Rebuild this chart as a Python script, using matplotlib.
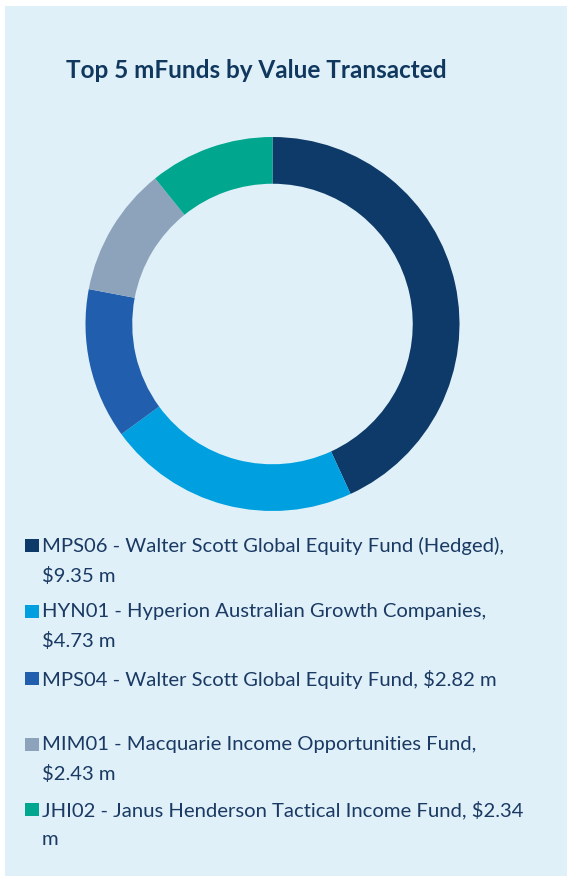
import matplotlib
matplotlib.use("Agg")
import matplotlib.pyplot as plt
from matplotlib.patches import Rectangle

# data
codes = ["MPS06", "HYN01", "MPS04", "MIM01", "JHI02"]
labels = [
    "MPS06 - Walter Scott Global Equity Fund (Hedged),\n$9.35 m",
    "HYN01 - Hyperion Australian Growth Companies,\n$4.73 m",
    "MPS04 - Walter Scott Global Equity Fund, $2.82 m",
    "MIM01 - Macquarie Income Opportunities Fund,\n$2.43 m",
    "JHI02 - Janus Henderson Tactical Income Fund, $2.34\nm",
]
values = [9.35, 4.73, 2.82, 2.43, 2.34]
colors = ["#0E3A69", "#00A0E0", "#215FAE", "#8DA3BC", "#00A78E"]

W, H = 567, 876
bg = "#E0F0F8"
txt = "#1A3A64"
plt.rcParams['font.family'] = ['Lato', 'DejaVu Sans']

fig = plt.figure(figsize=(W / 100, H / 100), dpi=100)
fig.patch.set_facecolor("white")
fig.patches.append(Rectangle((5 / W, 0), 1 - 5 / W, 1 - 6 / H, transform=fig.transFigure,
                             facecolor=bg, edgecolor="none", zorder=-5))

fig.text(256 / W, 1 - 70 / H, "Top 5 mFunds by Value Transacted", ha="center", va="center",
         fontsize=17.5, fontweight="bold", color="#10385F")

# donut
cx, cy, r = 272.5, 324, 187
ax = fig.add_axes([(cx - r) / W, 1 - (cy + r) / H, 2 * r / W, 2 * r / H])
ax.pie(values, colors=colors, startangle=90, counterclock=False, radius=1,
       wedgeprops=dict(width=0.25, edgecolor="none"))
ax.set_xlim(-1, 1)
ax.set_ylim(-1, 1)
ax.set_axis_off()

# legend
row_y = [546, 612, 679, 745, 810]
for lab, c, y in zip(labels, colors, row_y):
    fig.patches.append(Rectangle((25 / W, 1 - (y + 6) / H), 14 / W, 13 / H,
                                 transform=fig.transFigure, facecolor=c, edgecolor="none"))
    fig.text(42 / W, 1 - (y - 9) / H, lab, ha="left", va="top", fontsize=14.6,
             color=txt, linespacing=1.8)

fig.savefig("out.png", dpi=100, facecolor=fig.get_facecolor())
